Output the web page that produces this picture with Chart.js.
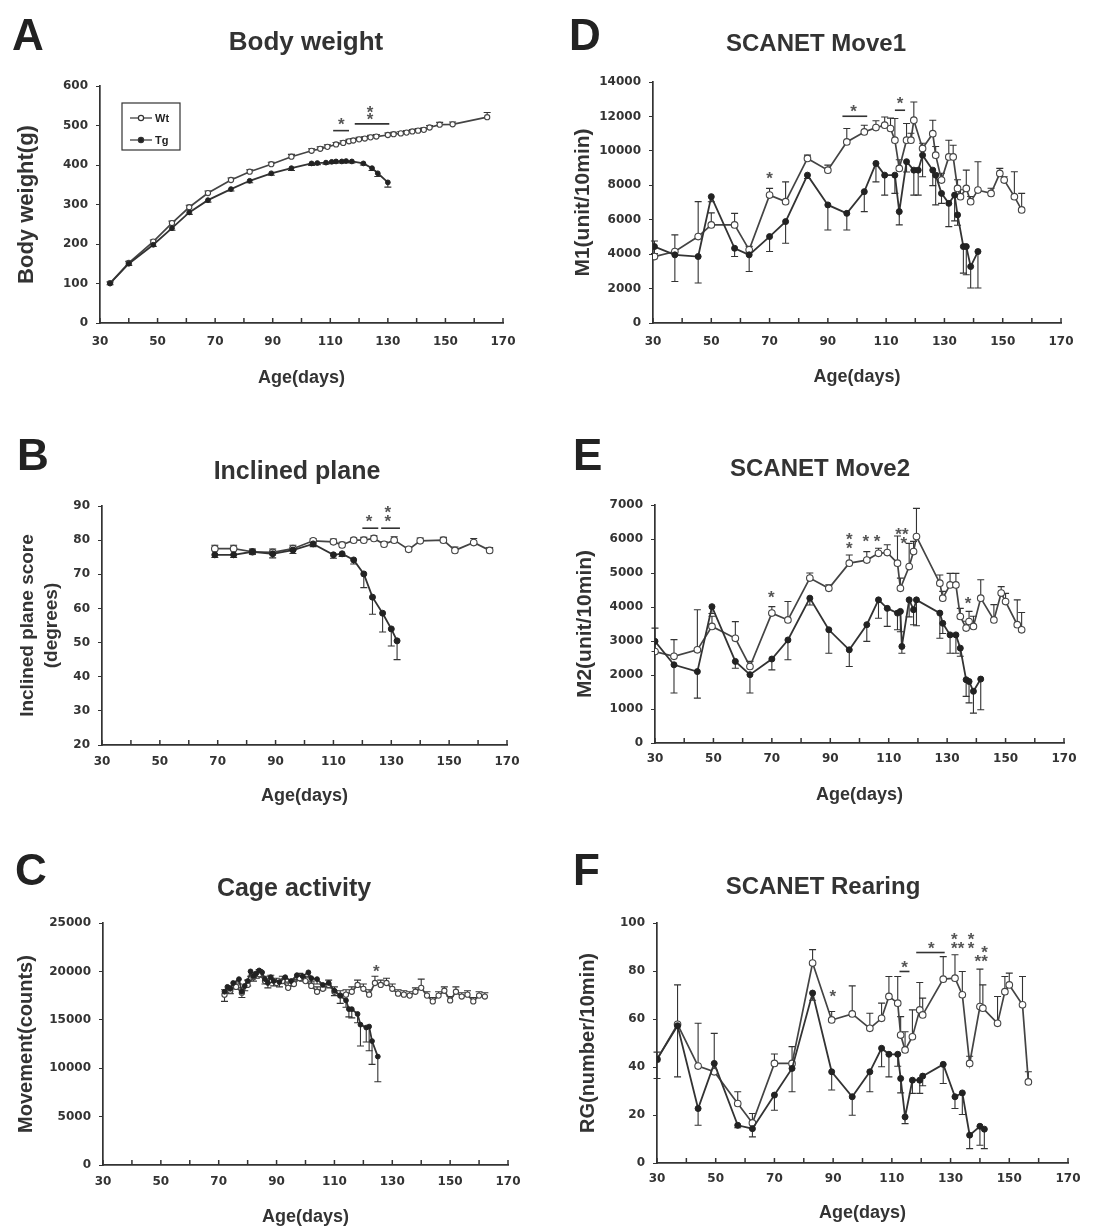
<!DOCTYPE html>
<html>
<head>
<meta charset="utf-8">
<script src="https://cdn.jsdelivr.net/npm/chart.js@4.4.0/dist/chart.umd.min.js"></script>
<style>
  body { margin: 0; width: 1116px; height: 1226px; overflow: hidden; background: #fff; position: relative; }
  canvas { position: absolute; }
</style>
</head>
<body>
<canvas id="cA" width="556" height="410" style="left:0;top:0"></canvas>
<canvas id="cB" width="556" height="420" style="left:0;top:410px"></canvas>
<canvas id="cC" width="556" height="410" style="left:0;top:830px"></canvas>
<canvas id="cD" width="560" height="410" style="left:556px;top:0"></canvas>
<canvas id="cE" width="560" height="420" style="left:556px;top:410px"></canvas>
<canvas id="cF" width="560" height="410" style="left:556px;top:830px"></canvas>
<script>
// A - body weight (g)
const aAgeWt = [33.5,40,48.5,55,61,67.5,75.5,82,89.5,96.5,103.5,106.5,109,112,114.5,116.5,118,120,122,124,126,130,132,134.5,136.5,138.5,140.5,142.5,144.5,148,152.5,164.5];
const aWt    = [101,152,206,253,293,329,362,383,402,421,436,441,446,452,456,460,462,465,467,470,472,476,478,480,482,485,487,489,495,502,503,521];
const aErrWt = [3,4,4,5,5,5,5,5,5,6,5,5,5,5,5,5,5,5,5,5,5,5,5,5,5,5,5,5,5,6,6,12];
const aAgeTg = [33.5,40,48.5,55,61,67.5,75.5,82,89.5,96.5,103.5,105.5,108.5,110.5,112,114,115.5,117.5,121.5,124.5,126.5,130];
const aTg    = [100,150,198,240,280,311,339,360,379,392,404,405,406,408,409,409,410,409,404,392,379,356];
const aErrTg = [3,4,4,5,5,5,5,5,5,6,5,4,4,4,4,4,4,4,4,6,8,12];
const aBars  = [[111,116.5,487],[118.5,130.5,504]];
const aStars = [[113.8,510,'*'],[123.8,522,'*'],[123.8,541,'*']];

// B - inclined plane (degrees)
const bAgeWt = [69,75.5,82,89,96,103,110,113,117,120.5,124,127.5,131,136,140,148,152,158.5,164];
const bWt    = [77.5,77.5,76.6,76.4,77.5,79.8,79.5,78.6,80,80,80.5,78.8,80,77.3,79.8,80,77,79.3,77];
const bErrWt = [1,1,0.8,1,1,0.6,0.8,0.8,0.6,0.8,0.8,0.8,1,0.6,0.8,0.8,1,1.2,0.8];
const bAgeTg = [69,75.5,82,89,96,103,110,113,117,120.5,123.5,127,130,132];
const bTg    = [75.7,75.7,76.6,76,77.1,78.9,75.7,76,74.2,70.1,63.3,58.6,54,50.5];
const bErrTg = [0.8,0.8,0.8,1.2,1,0.8,1,0.8,1.2,4,5,5.5,5,5.5];
const bBars  = [[120,125.5,83.5],[126.5,133,83.5]];
const bStars = [[122.3,86.3,'*'],[128.8,86.3,'*'],[128.8,89,'*']];

// C - cage activity (counts)
const cAgeWt = [72,74,76,78,80,82,84,86,88,90,92,94,96,98,100,102,104,106,108,110,112,114,116,118,120,122,124,126,128,130,132,134,136,138,140,142,144,146,148,150,152,154,156,158,160,162];
const cWt    = [17600,18000,18400,17800,18600,19400,19700,19000,19100,18800,19000,18300,18700,19300,19000,18500,17900,18200,18600,17900,17500,17600,17900,18600,18200,17600,18800,18600,18800,18200,17700,17600,17500,17900,18300,17500,16900,17500,18000,17000,17900,17400,17600,16900,17500,17400];
const cErrWt = [500,500,500,500,500,500,500,500,500,500,500,500,500,500,500,500,500,500,500,500,500,500,500,500,500,500,700,500,500,500,400,400,400,400,900,400,400,400,400,400,500,400,400,400,400,400];
const cAgeTg = [72,73,74,75,77,78,79,80,81,82,83,84,85,86,87,88,89,91,93,95,97,99,101,102,104,106,108,110,112,114,115,116,118,119,121,122,123,125];
const cTg    = [17900,18400,18200,18800,19200,17900,18500,19000,20000,19500,19800,20100,19900,19200,18800,19400,19000,18900,19400,19000,19600,19500,19900,19300,19200,18600,18800,18000,17500,17000,16100,16100,15600,14500,14200,14300,12800,11200];
const cErrTg = [1000,500,500,500,500,600,500,500,500,500,500,500,500,500,500,500,500,500,500,500,500,500,500,500,500,500,500,500,800,700,800,900,900,2200,1500,2500,2400,2600];
const cBars  = [];
const cStars = [[124.5,20300,'*']];

// D - SCANET Move1 (unit/10min)
const dAgeWt = [30.5,37.5,45.5,50,58,63,70,75.5,83,90,96.5,102.5,106.5,109.5,111.5,113,114.5,117,118.5,119.5,122.5,126,127,129,131.5,133,134.5,135.5,137.5,139,141.5,146,149,150.5,154,156.5];
const dWt    = [3860,4150,5020,5700,5700,4250,7430,7050,9560,8880,10520,11100,11350,11490,11300,10620,8980,10620,10620,11780,10140,11000,9750,8300,9650,9650,7820,7340,7820,7050,7720,7530,8690,8300,7340,6570];
const dErrWt = [900,970,2030,700,670,200,390,1150,190,290,780,390,400,480,600,1260,500,970,400,1060,300,780,500,400,970,680,500,400,1060,300,1650,300,290,200,1450,960];
const dAgeTg = [30.5,37.5,45.5,50,58,63,70,75.5,83,90,96.5,102.5,106.5,109.5,113,114.5,117,119.5,121,122.5,126,127,129,131.5,133.5,134.5,136.5,137.5,139,141.5];
const dTg    = [4440,3960,3860,7340,4340,3960,5020,5890,8590,6860,6370,7630,9270,8590,8590,6470,9370,8880,8880,9750,8880,8590,7530,6950,7430,6280,4440,4440,3280,4150];
const dErrTg = [400,1550,1540,300,480,970,870,1260,200,1460,970,1160,1070,1160,1060,770,600,1450,1450,1250,900,1730,580,1350,1500,600,1540,1640,1250,2120];
const dBars  = [[95,103.5,12010],[113,116.5,12360]];
const dStars = [[70,8590,'*'],[98.8,12450,'*'],[114.8,12940,'*']];

// E - SCANET Move2 (unit/10min)
const eAgeWt = [30,36.5,44.5,49.5,57.5,62.5,70,75.5,83,89.5,96.5,102.5,106.5,109.5,113,114,117,118.5,119.5,127.5,128.5,131,133,134.5,136.5,137.5,139,141.5,146,148.5,150,154,155.5];
const eWt    = [2690,2550,2740,3430,3080,2250,3820,3620,4850,4550,5290,5380,5580,5600,5290,4550,5190,5630,6070,4700,4260,4650,4650,3720,3380,3570,3430,4260,3620,4410,4160,3480,3330];
const eErrWt = [690,490,1180,300,490,150,190,540,150,100,240,250,150,230,800,300,680,300,830,240,200,340,340,240,200,300,300,540,450,190,240,730,510];
const eAgeTg = [30,36.5,44.5,49.5,57.5,62.5,70,75.5,83,89.5,96.5,102.5,106.5,109.5,113,114,114.5,117,118.5,119.5,127.5,128.5,131,133,134.5,136.5,137.5,139,141.5];
const eTg    = [2990,2300,2100,4010,2400,2010,2470,3030,4260,3330,2740,3480,4210,3960,3820,3870,2840,4210,3920,4210,3820,3520,3180,3180,2790,1860,1810,1520,1880];
const eErrTg = [300,830,780,200,200,540,320,580,200,690,490,490,540,530,490,600,200,500,440,760,740,300,540,540,240,490,630,640,900];
const eBars  = [];
const eStars = [[69.8,4360,'*'],[96.5,6070,'*'],[96.5,5800,'*'],[102.2,6020,'*'],[106,6020,'*'],[113.4,6220,'*'],[115.7,6220,'*'],[115.2,5970,'*'],[137.2,4210,'*']];

// F - SCANET Rearing (number/10min)
const fAgeWt = [30,37,44,49.5,57.5,62.5,70,76,83,89.5,96.5,102.5,106.5,109,112,113,114.5,117,119.5,120.5,127.5,131.5,134,136.5,140,141,146,148.5,150,154.5,156.5];
const fWt    = [43.2,57.8,40.4,38,24.8,16.7,41.5,41.5,83.3,59.6,62.1,56.1,60.3,69.4,66.6,53.3,47.1,52.6,63.8,61.7,76.6,77,70.1,41.5,65.2,64.5,58.2,71.4,74.2,65.9,33.8];
const fErrWt = [3,16.4,17.8,16,4.9,3.9,3.9,7,5.6,3.5,11.7,6.3,6.3,8.3,11.1,7.7,7.6,11.2,11.4,7,9.4,9.8,9.7,3,15.6,9.7,11.2,6.3,4.9,11.8,4.2];
const fAgeTg = [30,37,44,49.5,57.5,62.5,70,76,83,89.5,96.5,102.5,106.5,109,112,113,114.5,117,119.5,120.5,127.5,131.5,134,136.5,140,141.5];
const fTg    = [43.2,57.2,22.7,41.5,15.7,14.3,28.3,39.4,70.8,38,27.6,38,47.8,45.3,45.3,35.2,19.2,34.5,34.5,36.2,41.1,27.6,29.2,11.6,15.3,14.1];
const fErrTg = [8,21.3,7,3,1,3.4,6.3,9.7,3,7.6,7.7,8.3,7.7,9.4,5,6,2.8,5.5,5.5,4,8,4.9,9,5.6,7.9,8.1];
const fBars  = [[112.6,116,79.8],[118.3,128,87.7]];
const fStars = [[89.9,70.8,'*'],[114.3,82.6,'*'],[123.4,90.9,'*'],[131.3,94.4,'*'],[131.3,90.9,'*'],[133.6,90.9,'*'],[137,94.4,'*'],[137,90.9,'*'],[139.3,85.4,'*'],[141.6,88.9,'*'],[141.6,85.4,'*']];

const INK = '#333';
const FONT = '"Liberation Sans", Arial, sans-serif';
Chart.defaults.font.family = FONT;
Chart.defaults.color = INK;

function pts(ages, vals) {
  return ages.map((a, i) => ({x: a, y: vals[i]}));
}

function makeDecor(p) {
  return {
    id: 'decor',
    beforeDatasetsDraw(chart) {
      const {ctx, scales: {x, y}} = chart;
      ctx.save();
      ctx.strokeStyle = INK;
      ctx.lineWidth = 1.1;
      chart.data.datasets.forEach(ds => {
        ds.data.forEach((pt, i) => {
          const e = ds.err[i];
          if (!e) return;
          const px = x.getPixelForValue(pt.x);
          const py = y.getPixelForValue(pt.y);
          const pe = y.getPixelForValue(pt.y + ds.errDir * e);
          ctx.beginPath();
          ctx.moveTo(px, py); ctx.lineTo(px, pe);
          ctx.moveTo(px - 3.5, pe); ctx.lineTo(px + 3.5, pe);
          ctx.stroke();
        });
      });
      ctx.restore();
    },
    afterDraw(chart) {
      const {ctx, scales: {x, y}} = chart;
      ctx.save();
      // x axis ticks, pointing up into the plot
      ctx.strokeStyle = INK;
      ctx.lineWidth = 1.5;
      for (let v = 30; v <= 170; v += 10) {
        const px = x.getPixelForValue(v);
        ctx.beginPath();
        ctx.moveTo(px, y.bottom);
        ctx.lineTo(px, y.bottom - 5);
        ctx.stroke();
      }
      // significance bars and stars
      ctx.lineWidth = 1.6;
      p.bars.forEach(b => {
        const py = y.getPixelForValue(b[2]);
        ctx.beginPath();
        ctx.moveTo(x.getPixelForValue(b[0]), py);
        ctx.lineTo(x.getPixelForValue(b[1]), py);
        ctx.stroke();
      });
      ctx.fillStyle = '#555';
      ctx.font = 'bold 17px ' + FONT;
      ctx.textAlign = 'center';
      ctx.textBaseline = 'middle';
      p.stars.forEach(s => {
        ctx.fillText(s[2], x.getPixelForValue(s[0]), y.getPixelForValue(s[1]) + 4);
      });
      // panel letter and title
      ctx.fillStyle = '#222';
      ctx.textAlign = 'left';
      ctx.textBaseline = 'alphabetic';
      ctx.font = 'bold 44px ' + FONT;
      ctx.fillText(p.letter, p.letterPos[0], p.letterPos[1]);
      ctx.textAlign = 'center';
      ctx.textBaseline = 'middle';
      ctx.font = 'bold ' + p.titleSize + 'px ' + FONT;
      ctx.fillStyle = '#333';
      ctx.fillText(p.title, p.titlePos[0], p.titlePos[1]);
      // legend box (panel A only)
      if (p.legend) {
        const [lx, ly, lw, lh] = p.legend;
        ctx.strokeStyle = INK;
        ctx.lineWidth = 1.2;
        ctx.strokeRect(lx, ly, lw, lh);
        ctx.font = 'bold 11px ' + FONT;
        ctx.textAlign = 'left';
        const rows = [['Wt', '#fff', ly + 15], ['Tg', '#222', ly + 37]];
        rows.forEach(r => {
          ctx.beginPath();
          ctx.moveTo(lx + 8, r[2]); ctx.lineTo(lx + 30, r[2]);
          ctx.stroke();
          ctx.beginPath();
          ctx.arc(lx + 19, r[2], 2.6, 0, Math.PI * 2);
          ctx.fillStyle = r[1];
          ctx.fill();
          ctx.stroke();
          ctx.fillStyle = '#222';
          ctx.fillText(r[0], lx + 33, r[2] + 1);
        });
      }
      ctx.restore();
    }
  };
}

function makePanel(p) {
  const wtRadius = p.small ? 2.6 : 3.3;
  new Chart(document.getElementById(p.id), {
    type: 'line',
    data: {
      datasets: [
        {
          label: 'Tg', data: pts(p.tg[0], p.tg[1]), err: p.tg[2], errDir: -1,
          borderColor: INK, borderWidth: 1.8, backgroundColor: '#222',
          pointRadius: p.small ? 2.4 : 3, pointBackgroundColor: '#222', pointBorderColor: '#222', pointBorderWidth: 1
        },
        {
          label: 'Wt', data: pts(p.wt[0], p.wt[1]), err: p.wt[2], errDir: 1,
          borderColor: '#444', borderWidth: 1.7, backgroundColor: '#fff',
          pointRadius: wtRadius, pointBackgroundColor: '#fff', pointBorderColor: '#444', pointBorderWidth: 1.1
        }
      ]
    },
    options: {
      responsive: false,
      animation: false,
      layout: { padding: { top: p.area.top, right: p.area.right, left: 0, bottom: 0 } },
      plugins: { legend: { display: false }, tooltip: { enabled: false } },
      scales: {
        x: {
          type: 'linear', min: 30, max: 170,
          afterFit: s => { s.height = p.area.bottom; },
          grid: { display: true, drawOnChartArea: false, drawTicks: false },
          border: { display: true, color: INK, width: 1.7 },
          ticks: {
            stepSize: 10, autoSkip: false, maxRotation: 0, padding: p.xTickPad,
            color: '#333', font: { family: '"DejaVu Sans", sans-serif', size: 12, weight: 'bold' },
            callback: v => ((v - 30) % 20 === 0 ? String(v) : '')
          },
          title: {
            display: true, text: 'Age(days)', color: '#333',
            font: { size: 18, weight: 'bold' }, padding: { top: 0, bottom: p.xTitlePad }
          }
        },
        y: {
          min: p.yMin, max: p.yMax,
          afterFit: s => { s.width = p.area.left; },
          grid: { display: true, drawOnChartArea: false, drawTicks: true, tickLength: 4, color: INK },
          border: { display: true, color: INK, width: 1.7 },
          ticks: {
            stepSize: p.yStep, padding: 8,
            color: '#333', font: { family: '"DejaVu Sans", sans-serif', size: 12, weight: 'bold' },
            callback: v => String(v)
          },
          title: {
            display: true, text: p.yTitle, color: '#333',
            font: { size: p.yTitleSize, weight: 'bold', lineHeight: p.yTitleLh }, padding: { top: p.yTitlePad, bottom: 0 }
          }
        }
      }
    },
    plugins: [makeDecor(p)]
  });
}

makePanel({
  id: 'cA', letter: 'A', title: 'Body weight', titleSize: 26, yTitle: 'Body weight(g)', yTitleSize: 22, yTitleLh: 1.2,
  yMin: 0, yMax: 600, yStep: 100, small: true,
  wt: [aAgeWt, aWt, aErrWt], tg: [aAgeTg, aTg, aErrTg], bars: aBars, stars: aStars,
  area: { left: 100, top: 86, right: 53, bottom: 87 },
  letterPos: [12, 50], titlePos: [306, 43], xTickPad: 12, xTitlePad: 21, yTitlePad: 14,
  legend: [122, 103, 58, 47]
});
makePanel({
  id: 'cB', letter: 'B', title: 'Inclined plane', titleSize: 25, yTitle: ['Inclined plane score', '(degrees)'], yTitleSize: 19, yTitleLh: 1.3,
  yMin: 20, yMax: 90, yStep: 10,
  wt: [bAgeWt, bWt, bErrWt], tg: [bAgeTg, bTg, bErrTg], bars: bBars, stars: bStars,
  area: { left: 102, top: 96, right: 49, bottom: 85 },
  letterPos: [17, 60], titlePos: [297, 62], xTickPad: 10, xTitlePad: 23, yTitlePad: 15
});
makePanel({
  id: 'cC', letter: 'C', title: 'Cage activity', titleSize: 25, yTitle: 'Movement(counts)', yTitleSize: 20, yTitleLh: 1.2,
  yMin: 0, yMax: 25000, yStep: 5000, small: true,
  wt: [cAgeWt, cWt, cErrWt], tg: [cAgeTg, cTg, cErrTg], bars: cBars, stars: cStars,
  area: { left: 103, top: 93, right: 48, bottom: 75 },
  letterPos: [15, 55], titlePos: [294, 59], xTickPad: 10, xTitlePad: 12, yTitlePad: 14
});
makePanel({
  id: 'cD', letter: 'D', title: 'SCANET Move1', titleSize: 24, yTitle: 'M1(unit/10min)', yTitleSize: 21, yTitleLh: 1.2,
  yMin: 0, yMax: 14000, yStep: 2000,
  wt: [dAgeWt, dWt, dErrWt], tg: [dAgeTg, dTg, dErrTg], bars: dBars, stars: dStars,
  area: { left: 97, top: 82, right: 55, bottom: 87 },
  letterPos: [13, 50], titlePos: [260, 44], xTickPad: 12, xTitlePad: 22, yTitlePad: 15
});
makePanel({
  id: 'cE', letter: 'E', title: 'SCANET Move2', titleSize: 24, yTitle: 'M2(unit/10min)', yTitleSize: 21, yTitleLh: 1.2,
  yMin: 0, yMax: 7000, yStep: 1000,
  wt: [eAgeWt, eWt, eErrWt], tg: [eAgeTg, eTg, eErrTg], bars: eBars, stars: eStars,
  area: { left: 99, top: 95, right: 52, bottom: 87 },
  letterPos: [17, 60], titlePos: [264, 59], xTickPad: 9, xTitlePad: 24, yTitlePad: 17
});
makePanel({
  id: 'cF', letter: 'F', title: 'SCANET Rearing', titleSize: 24, yTitle: 'RG(number/10min)', yTitleSize: 20, yTitleLh: 1.2,
  yMin: 0, yMax: 100, yStep: 20,
  wt: [fAgeWt, fWt, fErrWt], tg: [fAgeTg, fTg, fErrTg], bars: fBars, stars: fStars,
  area: { left: 101, top: 93, right: 48, bottom: 77 },
  letterPos: [17, 55], titlePos: [267, 57], xTickPad: 9, xTitlePad: 16, yTitlePad: 20
});
</script>
</body>
</html>
